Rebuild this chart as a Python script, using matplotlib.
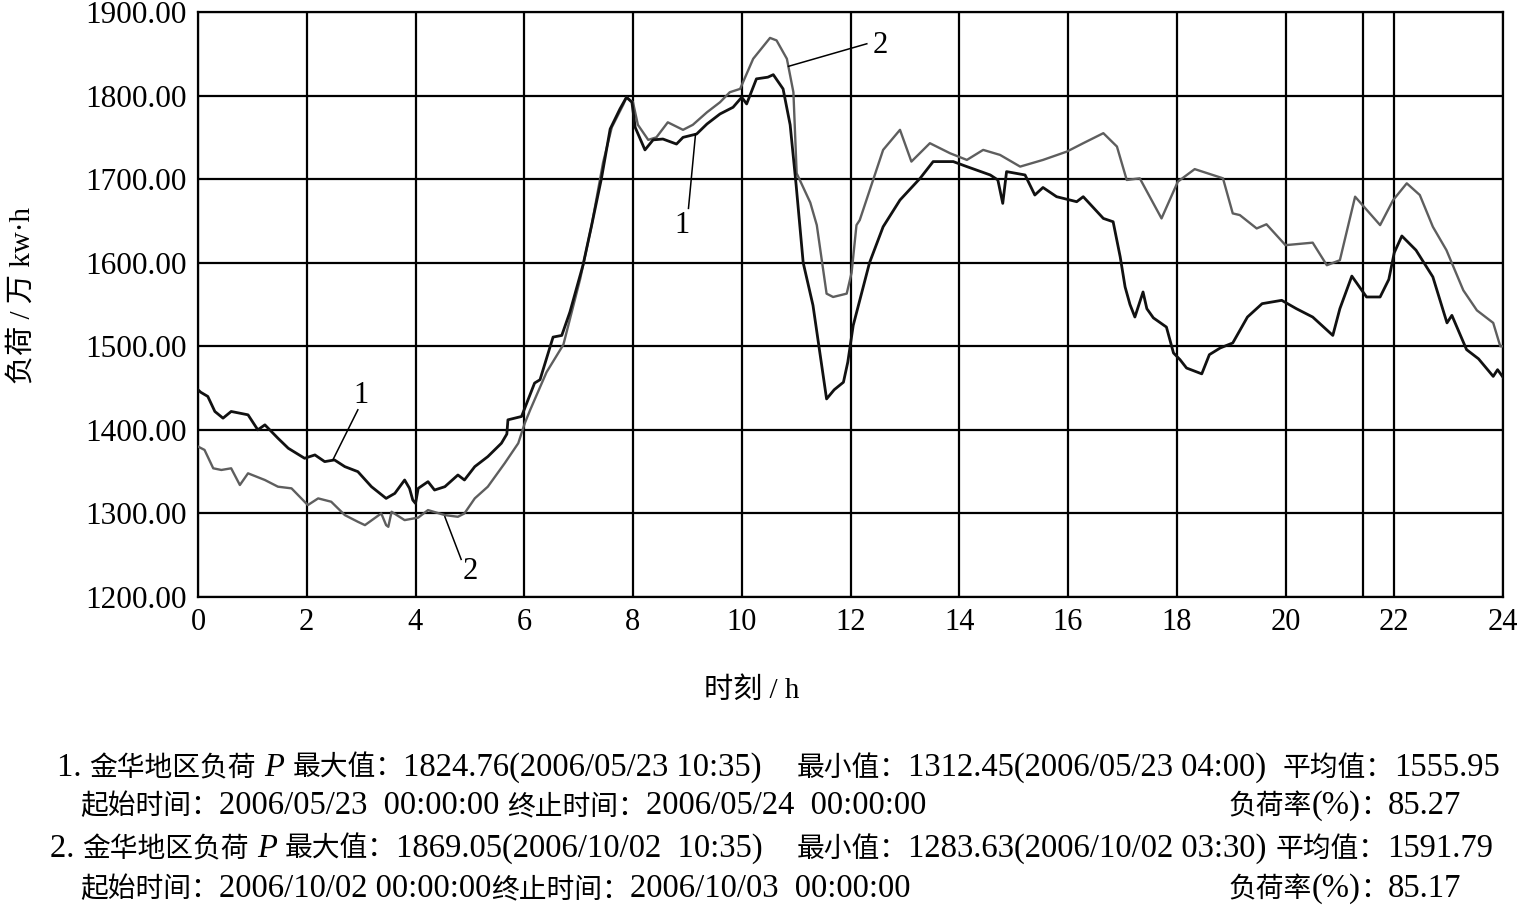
import numpy as np
import matplotlib
matplotlib.use('Agg')
import matplotlib.pyplot as plt

FAM = ['Liberation Serif', 'Noto Sans CJK SC']
plt.rcParams['font.family'] = FAM

# Series 1: 2006/05/23 (black)
hours_1 = [0.0, 0.05, 0.18, 0.31, 0.46, 0.61, 0.92, 1.1, 1.23, 1.47, 1.66, 1.96, 2.15, 2.33,
           2.51, 2.7, 2.94, 3.19, 3.46, 3.62, 3.8, 3.89, 3.95, 4.0, 4.05, 4.23, 4.35, 4.54,
           4.78, 4.9, 5.09, 5.33, 5.58, 5.68, 5.7, 5.95, 6.07, 6.19, 6.29, 6.53, 6.69, 6.84,
           7.08, 7.24, 7.42, 7.58, 7.76, 7.88, 7.98, 8.04, 8.22, 8.37, 8.55, 8.8, 8.92, 9.17,
           9.36, 9.6, 9.84, 10.0, 10.09, 10.27, 10.48, 10.58, 10.76, 10.89, 11.0, 11.13,
           11.31, 11.56, 11.7, 11.87, 11.95, 12.05, 12.17, 12.35, 12.6, 12.91, 13.28, 13.52,
           13.89, 14.14, 14.57, 14.71, 14.8, 14.87, 15.21, 15.39, 15.54, 15.79, 16.16, 16.28,
           16.65, 16.83, 16.96, 17.05, 17.14, 17.23, 17.38, 17.45, 17.57, 17.81, 17.94, 18.06,
           18.18, 18.46, 18.6, 18.8, 19.03, 19.3, 19.57, 19.93, 20.2, 20.5, 20.87, 21.0,
           21.22, 21.49, 21.74, 21.9, 22.0, 22.14, 22.4, 22.71, 22.97, 23.06, 23.33, 23.55,
           23.82, 23.9, 24.0]
load_1 = [1448, 1445, 1440, 1422, 1414, 1422, 1418, 1400, 1406, 1390, 1378, 1366, 1370, 1362,
          1364, 1356, 1350, 1332, 1318, 1324, 1340, 1330, 1316, 1312, 1330, 1338, 1328, 1332,
          1346, 1340, 1356, 1368, 1384, 1395, 1412, 1416, 1436, 1456, 1460, 1511, 1513, 1541,
          1597, 1645, 1701, 1760, 1784, 1798, 1792, 1762, 1735, 1747, 1748, 1742, 1750, 1754,
          1766, 1778, 1786, 1798, 1790, 1820, 1822, 1825, 1808, 1765, 1693, 1600,
          1549, 1437, 1448, 1457, 1481, 1525, 1555, 1600, 1643, 1675, 1701, 1721,
          1721, 1715, 1705, 1699, 1671, 1709, 1705, 1681, 1690, 1679, 1673, 1679,
          1653, 1649, 1607, 1571, 1550, 1535, 1565, 1545, 1534, 1523, 1492, 1484,
          1474, 1467, 1490, 1498, 1504, 1535, 1551, 1555, 1545, 1535, 1513, 1545,
          1584, 1559, 1559, 1580, 1612, 1632, 1615, 1583, 1528, 1537, 1496, 1485,
          1464, 1472, 1463]

# Series 2: 2006/10/02 (grey)
hours_2 = [0.0, 0.12, 0.28, 0.43, 0.61, 0.77, 0.92, 1.23, 1.47, 1.72, 2.02, 2.21, 2.45, 2.7,
           2.94, 3.07, 3.37, 3.46, 3.5, 3.56, 3.8, 4.05, 4.23, 4.54, 4.78, 4.9, 5.09, 5.33,
           5.64, 5.89, 6.01, 6.11, 6.41, 6.72, 7.03, 7.24, 7.45, 7.61, 7.82, 7.88, 8.0, 8.09,
           8.28, 8.43, 8.64, 8.92, 9.1, 9.36, 9.6, 9.78, 9.97, 10.21, 10.52, 10.64, 10.83,
           10.95, 11.01, 11.26, 11.38, 11.56, 11.68, 11.93, 12.02, 12.11, 12.17, 12.6, 12.91,
           13.12, 13.46, 13.83, 14.14, 14.44, 14.75, 15.12, 15.54, 15.98, 16.28, 16.65, 16.9,
           17.08, 17.32, 17.72, 18.02, 18.33, 18.85, 19.03, 19.16, 19.47, 19.65, 20.0, 20.5,
           20.76, 21.0, 21.28, 21.74, 21.98, 22.23, 22.47, 22.71, 22.96, 23.27, 23.52, 23.82,
           23.95, 24.0]
load_2 = [1380, 1376, 1354, 1352, 1354, 1334, 1348, 1340, 1332, 1330, 1310, 1318, 1314, 1298,
          1290, 1286, 1300, 1286, 1284, 1302, 1292, 1295, 1304, 1298, 1296, 1300, 1318, 1332,
          1360, 1384, 1408, 1424, 1469, 1502, 1581, 1645, 1720, 1762, 1789, 1798, 1792, 1765,
          1747, 1750, 1768, 1759, 1765, 1780, 1792, 1804, 1808, 1844, 1869, 1866, 1844,
          1804, 1707, 1672, 1645, 1563, 1559, 1563, 1588, 1645, 1651, 1735, 1759,
          1721, 1743, 1731, 1723, 1735, 1729, 1715, 1723, 1733, 1743, 1755, 1739,
          1699, 1701, 1653, 1697, 1712, 1701, 1659, 1657, 1641, 1646, 1621, 1624,
          1597, 1603, 1679, 1645, 1675, 1695, 1681, 1643, 1615, 1567, 1543, 1528,
          1500, 1500]

x_ticks = list(range(0, 25, 2))
y_ticks = [1200, 1300, 1400, 1500, 1600, 1700, 1800, 1900]
extra_vline = 21.43

info_lines = [
    [(57, [('1. 金华地区负荷 ', 'n'), ('P', 'i'), (' 最大值：1824.76(2006/05/23 10:35)', 'n')]),
     (797, [('最小值：1312.45(2006/05/23 04:00)', 'n')]),
     (1283, [('平均值：1555.95', 'n')])],
    [(80, [('起始时间：2006/05/23  00:00:00 终止时间：2006/05/24  00:00:00', 'n')]),
     (1228, [('负荷率(%)：85.27', 'n')])],
    [(50, [('2. 金华地区负荷 ', 'n'), ('P', 'i'), (' 最大值：1869.05(2006/10/02  10:35)', 'n')]),
     (797, [('最小值：1283.63(2006/10/02 03:30)', 'n')]),
     (1276, [('平均值：1591.79', 'n')])],
    [(80, [('起始时间：2006/10/02 00:00:00终止时间：2006/10/03  00:00:00', 'n')]),
     (1228, [('负荷率(%)：85.17', 'n')])],
]
info_baselines = [776, 814, 857, 897]


def is_cjk(ch):
    return ord(ch) >= 0x2E80


def split_runs(txt):
    runs = []
    for ch in txt:
        c = is_cjk(ch)
        if runs and runs[-1][1] == c:
            runs[-1][0] += ch
        else:
            runs.append([ch, c])
    return runs


W, H = 1518, 905
fig = plt.figure(figsize=(W / 100, H / 100), dpi=100)
ax = fig.add_axes([198 / W, 1 - 597 / H, 1305 / W, 585 / H])

ax.plot(hours_2, load_2, color='#5e5e5e', lw=1.7, zorder=3)
ax.plot(hours_1, load_1, color='#111111', lw=2.0, zorder=4)

ax.set_xlim(0, 24)
ax.set_ylim(1200, 1900)
ax.set_xticks(x_ticks)
ax.set_yticks(y_ticks)
ax.set_yticklabels([f'{v:.2f}' for v in y_ticks])
ax.tick_params(length=0, labelsize=22, pad=8)
ax.tick_params(axis='y', labelsize=22.5)
ax.grid(True, color='black', lw=1.6)
ax.axvline(extra_vline, color='black', lw=1.6)
for s in ax.spines.values():
    s.set_linewidth(1.6)
    s.set_color('black')

# curve labels with leader lines
lab = dict(fontsize=22, ha='center', va='center', zorder=5)
ax.plot([2.48, 2.94], [1364, 1424], color='black', lw=1.1, zorder=5)
ax.text(3.0, 1441, '1', **lab)
ax.plot([9.02, 9.15], [1665, 1754], color='black', lw=1.1, zorder=5)
ax.text(8.9, 1645, '1', **lab)
ax.plot([10.86, 12.3], [1835, 1862], color='black', lw=1.1, zorder=5)
ax.text(12.54, 1860, '2', **lab)
ax.plot([4.54, 4.84], [1296, 1245], color='black', lw=1.1, zorder=5)
ax.text(5.0, 1231, '2', **lab)

fig.text(22 / W, 1 - 295 / H, '负荷 / 万 kw·h', rotation=90, fontsize=21,
         ha='center', va='center')
fig.text(752 / W, 1 - 691 / H, '时刻 / h', fontsize=21, ha='center', va='center')

# footer: Latin runs are set a bit larger than CJK runs, as in the source
renderer = fig.canvas.get_renderer()
for line, base in zip(info_lines, info_baselines):
    for x0, pieces in line:
        x = x0
        for txt, st in pieces:
            for run, cjk in split_runs(txt):
                if st == 'i':
                    t = fig.text(x / W, 1 - base / H, run, fontsize=23.5, va='baseline',
                                 family='Liberation Serif', style='italic')
                elif cjk:
                    t = fig.text(x / W, 1 - base / H, run, fontsize=20, va='baseline',
                                 family='Noto Sans CJK SC')
                else:
                    t = fig.text(x / W, 1 - base / H, run, fontsize=23.5, va='baseline')
                x += t.get_window_extent(renderer).width

fig.savefig('out.png', dpi=100)
